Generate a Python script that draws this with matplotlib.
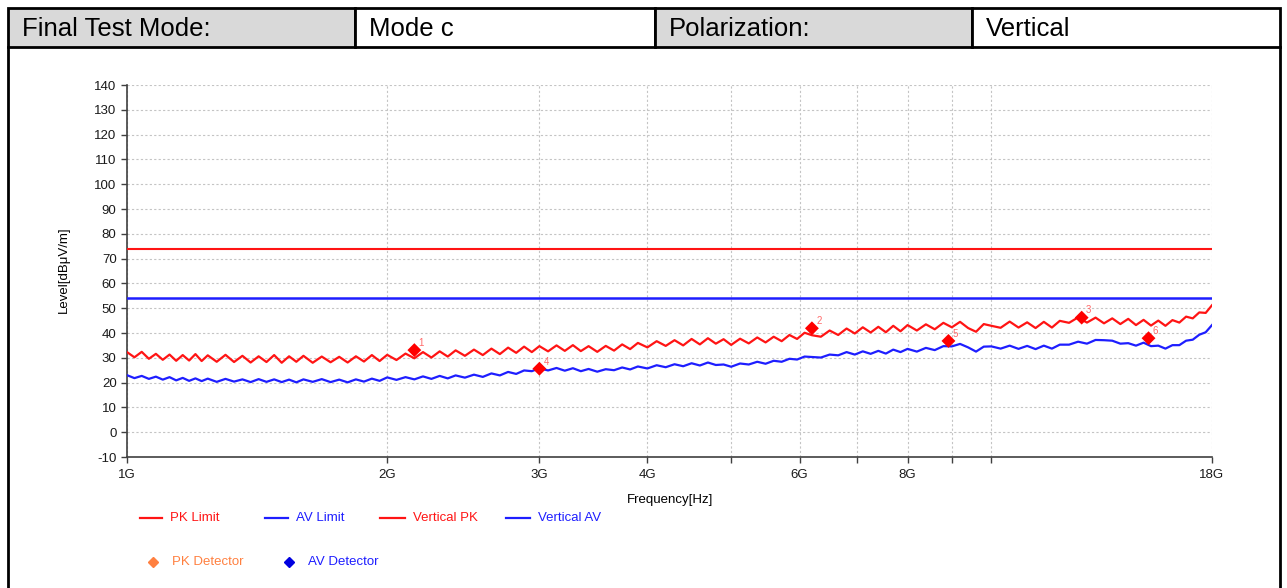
import matplotlib
matplotlib.use('Agg')
import matplotlib.pyplot as plt
import matplotlib.ticker as mticker
from matplotlib.lines import Line2D
from matplotlib.patches import Rectangle

plt.rcParams['font.family'] = ['Liberation Sans', 'DejaVu Sans']
plt.rcParams['axes.unicode_minus'] = False

# ---------------- data ----------------
freq_ghz = [1.00, 1.02, 1.04, 1.06, 1.08, 1.10, 1.12, 1.14, 1.16, 1.18, 1.20, 1.22, 1.24,
            1.27, 1.30, 1.33, 1.36, 1.39, 1.42, 1.45, 1.48, 1.51, 1.54, 1.57, 1.60,
            1.64, 1.68, 1.72, 1.76, 1.80, 1.84, 1.88, 1.92, 1.96, 2.00,
            2.05, 2.10, 2.15, 2.20, 2.25, 2.30, 2.35, 2.40,
            2.46, 2.52, 2.58, 2.64, 2.70, 2.76, 2.82, 2.88, 2.94, 3.00,
            3.07, 3.14, 3.21, 3.28, 3.35, 3.42,
            3.50, 3.58, 3.66, 3.74, 3.82, 3.90,
            4.00, 4.10, 4.20, 4.30, 4.40, 4.50, 4.60, 4.70, 4.80, 4.90, 5.00,
            5.12, 5.24, 5.36, 5.48, 5.60, 5.72, 5.84, 5.96, 6.08, 6.20,
            6.35, 6.50, 6.65, 6.80, 6.95, 7.10, 7.25, 7.40, 7.55, 7.70, 7.85, 8.00,
            8.20, 8.40, 8.60, 8.80, 9.00, 9.20, 9.40, 9.60, 9.80, 10.0,
            10.25, 10.5, 10.75, 11.0, 11.25, 11.5, 11.75, 12.0,
            12.3, 12.6, 12.9, 13.2, 13.5, 13.8, 14.1, 14.4, 14.7, 15.0,
            15.3, 15.6, 15.9, 16.2, 16.5, 16.8, 17.1, 17.4, 17.7, 18.0]

vertical_pk = [32.3, 30.2, 32.4, 29.6, 31.6, 29.2, 31.3, 28.8, 31.1, 28.9, 31.5, 28.7, 31.0,
               28.4, 31.2, 28.3, 30.8, 28.1, 30.6, 28.3, 31.1, 28.0, 30.6, 28.4, 30.8,
               28.0, 30.5, 28.2, 30.4, 28.1, 30.6, 28.5, 31.1, 28.7, 31.2,
               29.1, 31.7, 29.8, 32.3, 30.1, 32.6, 30.5, 33.0,
               30.8, 33.3, 31.1, 33.7, 31.5, 34.1, 32.0, 34.5, 32.3, 34.7,
               32.6, 35.0, 32.8, 35.1, 32.7, 34.7,
               32.4, 34.8, 32.9, 35.4, 33.5, 36.0,
               34.2, 36.7, 34.8, 37.1, 35.0, 37.6, 35.4, 37.9, 35.7, 37.5, 35.2,
               37.7, 35.8, 38.2, 36.2, 38.5, 36.7, 39.2, 37.6, 40.1, 39.1,
               38.5, 41.0, 39.2, 41.8, 39.8, 42.3, 40.2, 42.5, 40.3, 42.9, 40.7, 43.2,
               41.0, 43.5, 41.5, 44.1, 42.3, 44.5, 42.0, 40.5, 43.6, 42.9,
               42.1, 44.6, 42.2, 44.3, 42.0, 44.5, 42.2, 44.9,
               44.1, 46.3, 44.2, 46.2, 43.9, 45.9, 43.6, 45.7, 43.2, 45.3,
               43.0, 45.0, 42.9, 45.2, 44.2, 46.6, 45.9, 48.3, 48.1, 51.2]

vertical_av = [23.0, 21.8, 22.7, 21.5, 22.4, 21.2, 22.2, 20.9, 21.9, 20.7, 21.7, 20.6, 21.6,
               20.3, 21.5, 20.4, 21.3, 20.2, 21.4, 20.3, 21.3, 20.2, 21.2, 20.1, 21.3,
               20.3, 21.4, 20.2, 21.2, 20.1, 21.3, 20.4, 21.6, 20.7, 22.1,
               21.1, 22.2, 21.3, 22.5, 21.5, 22.7, 21.7, 22.9,
               22.0, 23.2, 22.3, 23.7, 22.9, 24.3, 23.5, 24.9, 24.6, 25.8,
               24.9, 25.9, 24.8, 25.8, 24.6, 25.5,
               24.4, 25.4, 25.0, 26.1, 25.3, 26.5,
               25.7, 27.0, 26.2, 27.4, 26.6, 27.8, 26.9, 28.1, 27.1, 27.3, 26.4,
               27.7, 27.3, 28.4, 27.6, 28.8, 28.4, 29.6, 29.3, 30.5, 30.3,
               30.1, 31.3, 31.0, 32.3, 31.3, 32.6, 31.6, 32.8, 31.7, 33.3, 32.3, 33.6,
               32.5, 34.0, 33.1, 34.7, 34.6, 35.6, 34.2, 32.5, 34.5, 34.6,
               33.7, 34.9, 33.6, 34.8, 33.5, 34.9, 33.7, 35.3,
               35.3, 36.5, 35.7, 37.2, 37.1, 36.9, 35.7, 35.9, 34.9, 36.1,
               34.7, 34.9, 33.7, 35.1, 35.1, 36.9, 37.3, 39.3, 40.3, 43.2]

pk_limit = 74.0
av_limit = 54.0

marker_freq = [2.15, 6.20, 12.72, 3.00, 8.92, 15.20]
marker_level = [33.1, 41.9, 46.2, 25.6, 36.8, 37.9]
marker_id = ['1', '2', '3', '4', '5', '6']

x_major = [1, 2, 3, 4, 6, 8, 18]
x_major_labels = ['1G', '2G', '3G', '4G', '6G', '8G', '18G']
x_minor = [5, 7, 9, 10]
y_ticks = list(range(-10, 141, 10))

header_texts = ['Final Test Mode:', 'Mode c', 'Polarization:', 'Vertical']
legend_line_labels = ['PK Limit', 'AV Limit', 'Vertical PK', 'Vertical AV']
legend_marker_labels = ['PK Detector', 'AV Detector']

# ---------------- style ----------------
RED = '#ff1414'
BLUE = '#1e1eff'
ORANGE = '#ff8040'
W, H = 1287, 588


def fx(x):
    return x / W


def fy(y):
    return 1 - y / H


fig = plt.figure(figsize=(W / 100, H / 100), dpi=100)
fig.patch.set_facecolor('white')

# ---------------- header table ----------------
cells = [(8, 355, '#d9d9d9'), (355, 655, 'white'), (655, 972, '#d9d9d9'), (972, 1280, 'white')]
top, bot = 8, 47
for (x0, x1, col), txt in zip(cells, header_texts):
    fig.patches.append(Rectangle((fx(x0), fy(bot)), fx(x1) - fx(x0), fy(top) - fy(bot),
                                 transform=fig.transFigure, facecolor=col,
                                 edgecolor='black', linewidth=2, zorder=1))
    fig.text(fx(x0 + 14), fy((top + bot) / 2 + 1), txt, fontsize=18.5,
             va='center', ha='left', color='black')

# outer frame
fig.lines.append(Line2D([fx(8), fx(8)], [fy(47), fy(590)], transform=fig.transFigure,
                        color='black', lw=2))
fig.lines.append(Line2D([fx(1280), fx(1280)], [fy(47), fy(590)], transform=fig.transFigure,
                        color='black', lw=2))

# ---------------- chart ----------------
ax = fig.add_axes([fx(127), fy(457), fx(1212) - fx(127), fy(85) - fy(457)])
ax.set_xscale('log')
ax.set_xlim(1, 18)
ax.set_ylim(-10, 140)

ax.xaxis.set_major_locator(mticker.FixedLocator(x_major))
ax.xaxis.set_major_formatter(mticker.FixedFormatter(x_major_labels))
ax.xaxis.set_minor_locator(mticker.FixedLocator(x_minor))
ax.xaxis.set_minor_formatter(mticker.NullFormatter())
ax.set_yticks(y_ticks)

grid_kw = dict(color='#c4c4c4', linestyle=(0, (2, 2)), linewidth=0.8)
ax.grid(True, which='major', axis='both', **grid_kw)
ax.grid(True, which='minor', axis='x', **grid_kw)
ax.set_axisbelow(True)

for s in ['top', 'right']:
    ax.spines[s].set_visible(False)
for s in ['left', 'bottom']:
    ax.spines[s].set_color('#404040')
    ax.spines[s].set_linewidth(1.2)

ax.tick_params(axis='both', which='both', direction='out', length=4, width=1,
               color='#404040', labelsize=9.5, labelcolor='#1a1a1a')
ax.tick_params(axis='x', which='major', pad=5)

ax.axhline(pk_limit, color=RED, lw=1.5, zorder=3)
ax.axhline(av_limit, color=BLUE, lw=1.8, zorder=3)
ax.plot(freq_ghz, vertical_pk, color=RED, lw=1.6, zorder=4)
ax.plot(freq_ghz, vertical_av, color=BLUE, lw=1.6, zorder=4)

ax.scatter(marker_freq, marker_level, marker='D', s=50, color='#ff0000',
           edgecolor='none', zorder=6)
for f, l, t in zip(marker_freq, marker_level, marker_id):
    ax.annotate(t, (f, l), xytext=(3, 3), textcoords='offset points',
                fontsize=7, color='#ff6a6a', zorder=7)

fig.text(fx(670), fy(500), 'Frequency[Hz]', fontsize=9.5, ha='center', va='center')
fig.text(fx(64), fy(270), 'Level[dBμV/m]', fontsize=9.5, ha='center', va='center',
         rotation=90)

# ---------------- legend ----------------
row1 = 518
line_items = [(140, 162, RED), (265, 288, BLUE), (380, 405, RED), (506, 530, BLUE)]
for (x0, x1, col), lab in zip(line_items, legend_line_labels):
    fig.lines.append(Line2D([fx(x0), fx(x1)], [fy(row1), fy(row1)],
                            transform=fig.transFigure, color=col, lw=1.6))
    fig.text(fx(x1 + 8), fy(row1), lab, color=col, fontsize=9.5, va='center', ha='left')

row2 = 562
marker_items = [(153, ORANGE), (289, '#0000e0')]
text_cols = [ORANGE, BLUE]
for (xm, col), tc, lab in zip(marker_items, text_cols, legend_marker_labels):
    fig.lines.append(Line2D([fx(xm)], [fy(row2)], transform=fig.transFigure,
                            marker='D', markersize=5.5, color=col, linestyle='none'))
    fig.text(fx(xm + 19), fy(row2), lab, color=tc, fontsize=9.5, va='center', ha='left')

fig.savefig('out.png', dpi=100)
